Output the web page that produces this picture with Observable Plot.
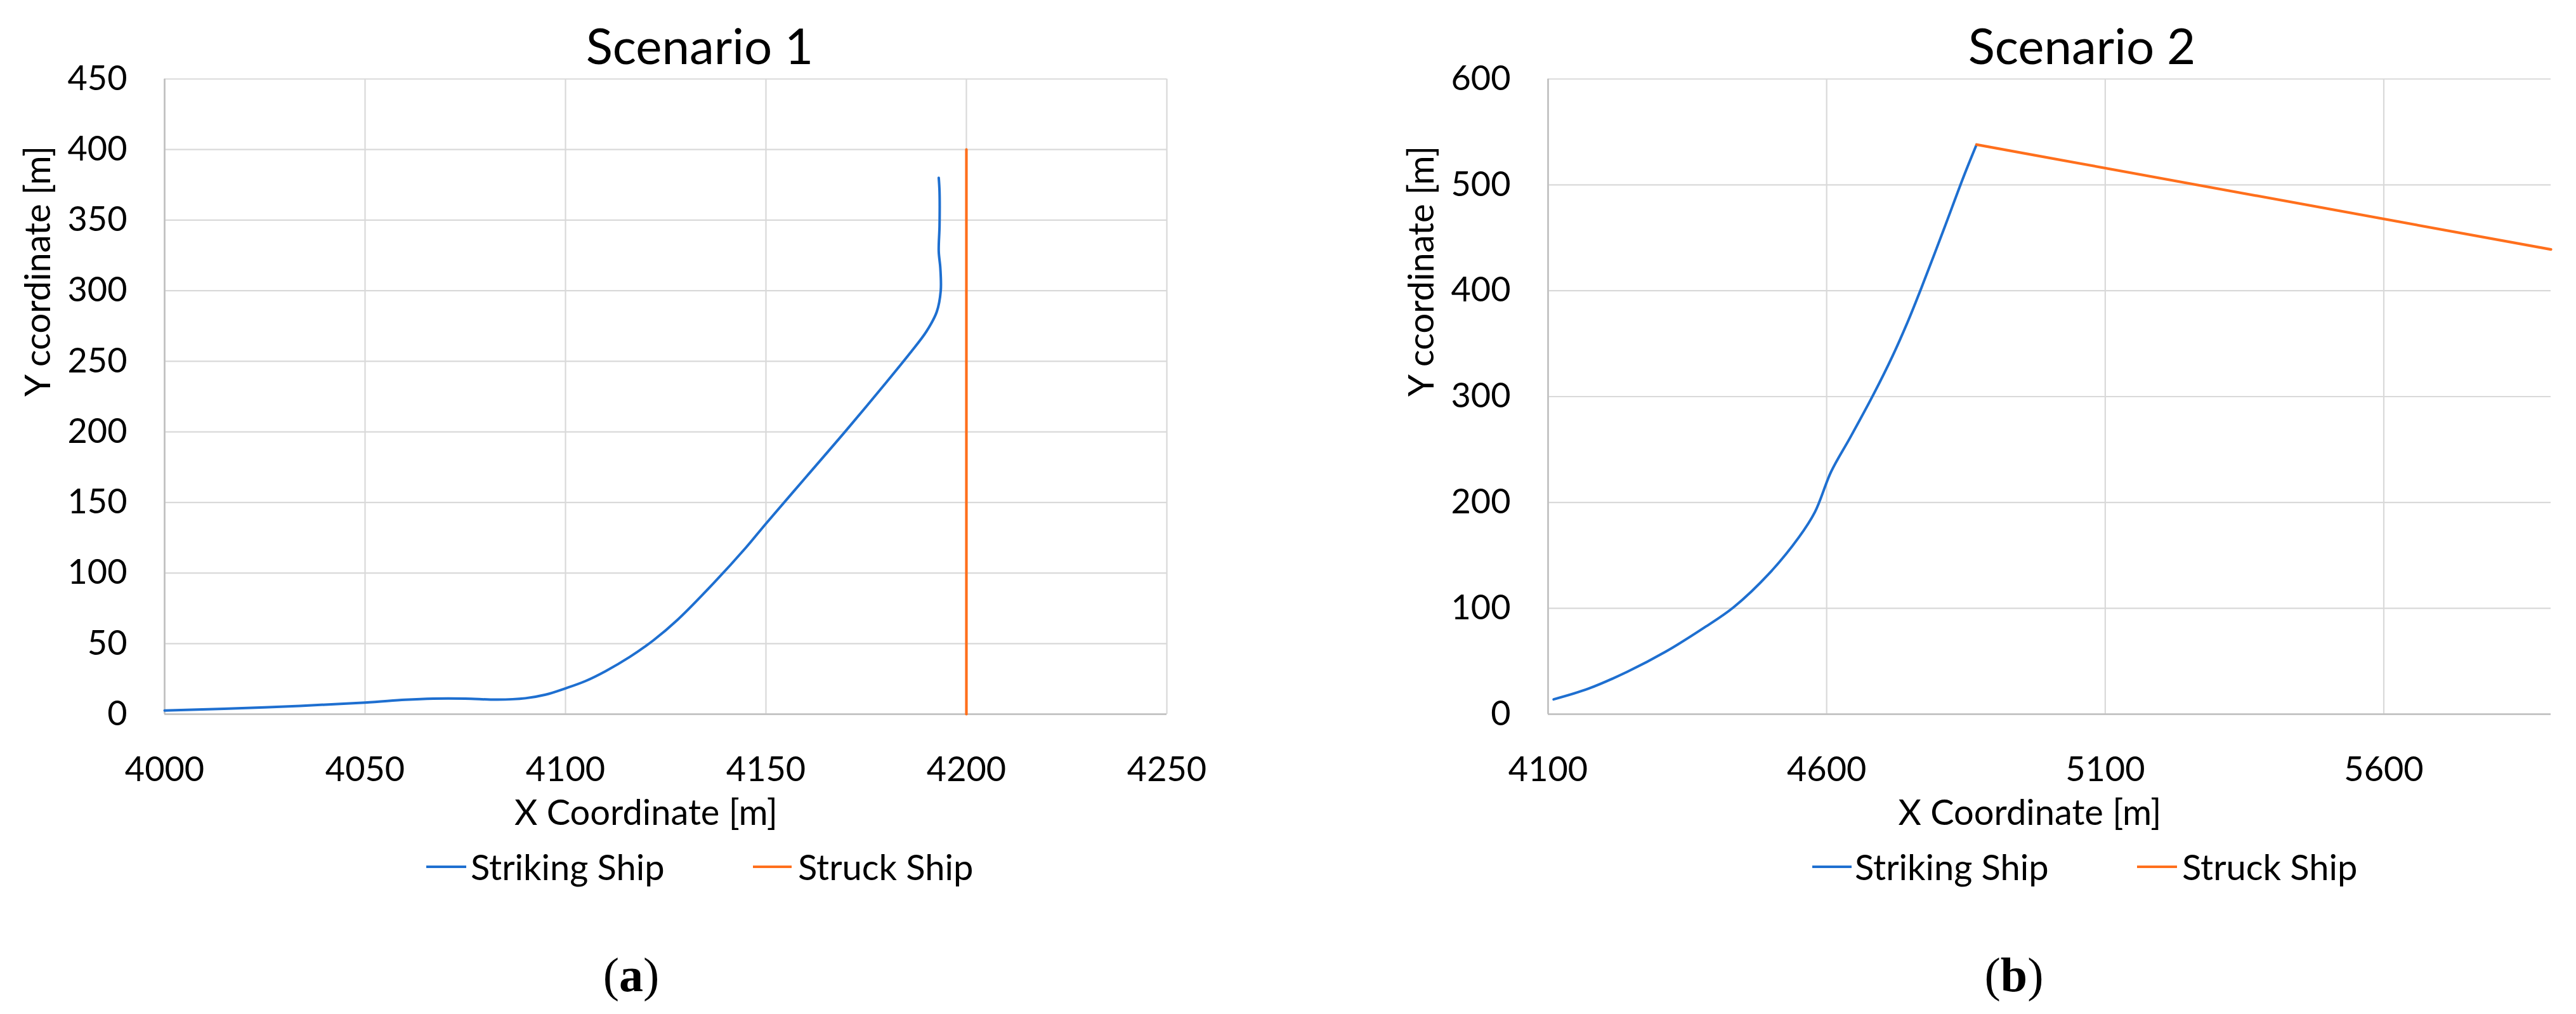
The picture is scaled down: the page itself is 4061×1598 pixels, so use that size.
<!DOCTYPE html>
<html>
<head>
<meta charset="utf-8">
<script src="https://cdn.jsdelivr.net/npm/d3@7"></script>
<script src="https://cdn.jsdelivr.net/npm/@observablehq/plot@0.6"></script>
<style>
  html, body { margin: 0; padding: 0; background: #fff; }
  #root { position: relative; width: 4061px; height: 1598px; overflow: hidden; background: #fff; font-family: Lato, "Open Sans", sans-serif; color: #000; }
  .abs { position: absolute; white-space: nowrap; line-height: 1; }
  .sw { position: absolute; height: 4px; }
</style>
</head>
<body>
<div id="root"></div>
<script>
// ---------- data ----------
const seriesNames = ["Striking Ship", "Struck Ship"];
const seriesColors = ["#1e6fd0", "#ff6f1c"];

const s1Striking = [
  [4000, 2.6], [4025, 4.8], [4050, 8.2], [4060, 10.2], [4067, 11], [4075, 11],
  [4083, 10.3], [4090, 11.3], [4095, 13.8], [4100, 18.3], [4105, 23.5], [4110, 30.5],
  [4116, 40.5], [4122, 52.5], [4128, 67], [4137, 93], [4145, 118], [4150, 135],
  [4160, 168], [4170, 201], [4180, 235], [4186, 256], [4190, 271], [4192.6, 285],
  [4193.6, 300], [4193.5, 316], [4193.1, 328], [4193.3, 346], [4193.3, 370], [4193.1, 380]
];
const s1Struck = [[4200, 0], [4200, 400]];

const s2Striking = [
  [4110, 14], [4172, 24], [4242, 40], [4311, 59], [4381, 82], [4433, 101],
  [4497, 133], [4550, 167], [4579, 191], [4608, 229], [4643, 262], [4684, 302],
  [4718, 338], [4745, 370], [4771, 404], [4811, 459], [4846, 508], [4869, 538]
];
const s2Struck = [[4869, 538], [5900, 439]];

const s1XTicks = [4000, 4050, 4100, 4150, 4200, 4250];
const s1YTicks = [0, 50, 100, 150, 200, 250, 300, 350, 400, 450];
const s2XTicks = [4100, 4600, 5100, 5600];
const s2YTicks = [0, 100, 200, 300, 400, 500, 600];

const titles = ["Scenario 1", "Scenario 2"];
const xLabel = "X Coordinate [m]";
const yLabel = "Y ccordinate [m]";
const captions = ["a", "b"];

// ---------- drawing ----------
const root = document.getElementById("root");
const H = 1330;

function chart(cfg) {
  const p = Plot.plot({
    width: cfg.width,
    height: H,
    marginLeft: cfg.ml,
    marginRight: cfg.mr,
    marginTop: 124,
    marginBottom: H - 1125,
    style: { fontFamily: "Lato, 'Open Sans', sans-serif", fontSize: "54px", color: "#000", background: "transparent", overflow: "visible" },
    x: { domain: cfg.xDomain },
    y: { domain: cfg.yDomain },
    marks: [
      Plot.gridX(cfg.xTicks, { stroke: "#d9d9d9", strokeOpacity: 1, strokeWidth: 2.2 }),
      Plot.gridY(cfg.yTicks, { stroke: "#d9d9d9", strokeOpacity: 1, strokeWidth: 2.2 }),
      Plot.ruleY([cfg.yDomain[0]], { stroke: "#bfbfbf", strokeWidth: 2.5 }),
      Plot.ruleX([cfg.xDomain[0]], { stroke: "#bfbfbf", strokeWidth: 2.5 }),
      Plot.axisX({ ticks: cfg.xTicks, tickSize: 0, tickPadding: 67, tickFormat: d => String(d), label: null, fill: "#000" }),
      Plot.axisY({ ticks: cfg.yTicks, tickSize: 0, tickPadding: 59, tickFormat: d => String(d), label: null, fill: "#000" }),
      Plot.line(cfg.striking, { x: d => d[0], y: d => d[1], stroke: seriesColors[0], strokeWidth: 4, curve: "catmull-rom" }),
      Plot.line(cfg.struck, { x: d => d[0], y: d => d[1], stroke: seriesColors[1], strokeWidth: 4.2 }),
      Plot.text([xLabel], { text: d => d, frameAnchor: "bottom", dy: 157, dx: -31, fontSize: 56, fill: "#000", lineAnchor: "middle" }),
      Plot.text([yLabel], { text: d => d, frameAnchor: "left", dx: -198, rotate: -90, fontSize: 56, fill: "#000", lineAnchor: "middle" })
    ]
  });
  p.style.position = "absolute";
  p.style.left = cfg.left + "px";
  p.style.top = "0px";
  root.appendChild(p);
}

chart({ left: 0, width: 2030, ml: 259, mr: 2030 - 1839, xDomain: [4000, 4250], yDomain: [0, 450],
        xTicks: s1XTicks, yTicks: s1YTicks, striking: s1Striking, struck: s1Struck });
chart({ left: 2031, width: 2030, ml: 2440 - 2031, mr: 4061 - 4021, xDomain: [4100, 5900], yDomain: [0, 600],
        xTicks: s2XTicks, yTicks: s2YTicks, striking: s2Striking, struck: s2Struck });

function addText(txt, cx, cy, size, extra) {
  const d = document.createElement("div");
  d.className = "abs";
  d.style.fontSize = size + "px";
  d.style.left = cx + "px";
  d.style.top = cy + "px";
  d.style.transform = "translate(-50%, -50%)";
  if (extra) Object.assign(d.style, extra);
  d.innerHTML = txt;
  root.appendChild(d);
  return d;
}

// titles
addText(titles[0], 1103, 71, 78);
addText(titles[1], 3282, 71, 78);

// legends
function legendItem(name, color, x0, x1, tx, cy) {
  const s = document.createElement("div");
  s.className = "sw";
  s.style.left = x0 + "px";
  s.style.width = (x1 - x0) + "px";
  s.style.top = (cy - 2) + "px";
  s.style.background = color;
  root.appendChild(s);
  const t = document.createElement("div");
  t.className = "abs";
  t.style.fontSize = "56px";
  t.style.left = tx + "px";
  t.style.top = cy + "px";
  t.style.transform = "translate(0, -50%)";
  t.textContent = name;
  root.appendChild(t);
}
legendItem(seriesNames[0], seriesColors[0], 672, 735, 742, 1366);
legendItem(seriesNames[1], seriesColors[1], 1187, 1248, 1258, 1366);
legendItem(seriesNames[0], seriesColors[0], 2857, 2919, 2924, 1366);
legendItem(seriesNames[1], seriesColors[1], 3369, 3432, 3440, 1366);

// captions
const capStyle = { fontFamily: "'Liberation Serif', 'Times New Roman', serif" };
addText("(<b>" + captions[0] + "</b>)", 995, 1536, 76, capStyle);
addText("(<b>" + captions[1] + "</b>)", 3175, 1536, 76, capStyle);
</script>
</body>
</html>
